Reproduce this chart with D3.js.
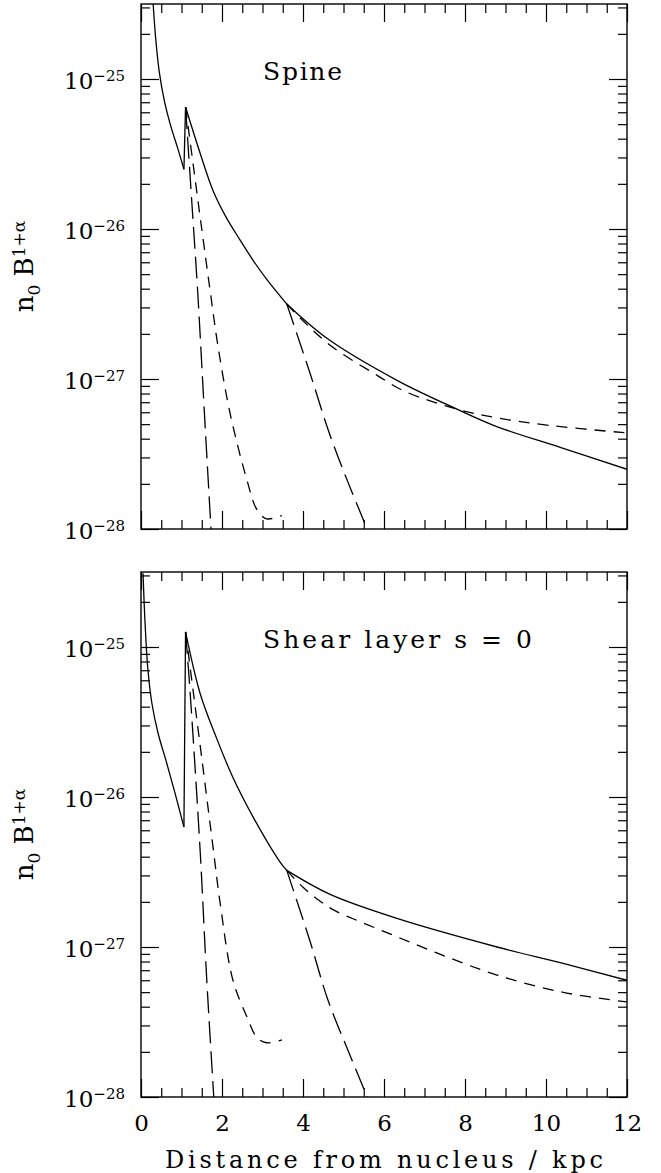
<!DOCTYPE html>
<html>
<head>
<meta charset="utf-8">
<script src="https://cdn.jsdelivr.net/npm/d3@7"></script>
<style>
  body { margin: 0; background: #fff; }
  svg { display: block; }
  text { font-family: "DejaVu Serif", serif; fill: #000; }
</style>
</head>
<body>
<svg id="chart" width="661" height="1173"></svg>
<script>
// Axis ticks
const xMajor = [0, 2, 4, 6, 8, 10, 12];
const xMinor = d3.range(0.5, 12, 0.5).filter(d => d % 2 !== 0);
const yDecades = [1e-28, 1e-27, 1e-26, 1e-25];
const yMin = 1e-28;
const yMax = Math.pow(10, -24.5);
const yMinor = [];
[-28, -27, -26, -25].forEach(e => {
  for (let m = 2; m <= 9; m++) yMinor.push(m * Math.pow(10, e));
});

// Spine panel, [kpc, n0 B^(1+a)]; each curve is a list of pieces
const spineSolid = [
  [[0.30, 3.16e-25], [0.36, 1.9e-25], [0.45, 1.12e-25], [0.58, 7.1e-26], [0.75, 4.7e-26], [0.90, 3.5e-26], [1.06, 2.5e-26]],
  [[1.06, 2.5e-26], [1.10, 6.5e-26]],
  [[1.10, 6.5e-26], [1.46, 3.2e-26], [1.78, 1.8e-26], [2.1, 1.2e-26], [2.44, 8.5e-27], [2.8, 6.0e-27], [3.11, 4.6e-27], [3.6, 3.16e-27]],
  [[3.6, 3.16e-27], [4.6, 1.86e-27], [6.32, 9.8e-28], [7.8, 6.3e-28], [8.8, 4.8e-28], [10.35, 3.5e-28], [12, 2.5e-28]]
];
const spineShort = [
  [[1.10, 6.5e-26], [1.28, 2.8e-26], [1.5, 1.0e-26], [1.7, 4.0e-27], [1.9, 1.66e-27], [2.2, 5.9e-28], [2.62, 2.1e-28], [2.86, 1.35e-28], [3.1, 1.17e-28], [3.48, 1.23e-28]],
  [[3.6, 3.16e-27], [3.9, 2.6e-27], [4.67, 1.68e-27], [5.85, 1.05e-27], [6.5, 8.3e-28], [7.8, 6.3e-28], [8.8, 5.5e-28], [10.1, 4.9e-28], [12, 4.37e-28]]
];
const spineLong = [
  [[1.10, 6.5e-26], [1.25, 1.58e-26], [1.4, 3.8e-27], [1.56, 6.3e-28], [1.75, 7.9e-29]],
  [[3.6, 3.16e-27], [4.17, 1.1e-27], [4.67, 4.2e-28], [5.16, 1.9e-28], [5.65, 9.1e-29]]
];

// Shear layer panel
const shearSolid = [
  [[0.05, 3.1e-25], [0.10, 1.45e-25], [0.17, 7.1e-26], [0.27, 4.2e-26], [0.42, 2.67e-26], [0.62, 1.74e-26], [0.84, 1.06e-26], [1.06, 6.3e-27]],
  [[1.06, 6.3e-27], [1.10, 1.26e-25]],
  [[1.10, 1.26e-25], [1.46, 4.9e-26], [1.87, 2.45e-26], [2.27, 1.35e-26], [2.8, 7.1e-27], [3.43, 3.7e-27], [3.6, 3.24e-27]],
  [[3.6, 3.24e-27], [4.67, 2.24e-27], [6.32, 1.55e-27], [8.79, 1.0e-27], [10.4, 7.8e-28], [12, 6.0e-28]]
];
const shearShort = [
  [[1.10, 1.26e-25], [1.3, 4.8e-26], [1.5, 1.82e-26], [1.78, 4.6e-27], [1.95, 2.0e-27], [2.27, 6.0e-28], [2.62, 3.4e-28], [2.86, 2.5e-28], [3.1, 2.3e-28], [3.48, 2.4e-28]],
  [[3.6, 3.24e-27], [4.0, 2.5e-27], [4.4, 2.04e-27], [4.8, 1.74e-27], [5.4, 1.48e-27], [6.32, 1.17e-27], [7.5, 8.7e-28], [8.79, 6.5e-28], [10.4, 5.0e-28], [12, 4.3e-28]]
];
const shearLong = [
  [[1.10, 1.26e-25], [1.2, 5.6e-26], [1.46, 4.4e-27], [1.62, 6.3e-28], [1.82, 7.9e-29]],
  [[3.6, 3.24e-27], [4.17, 1.1e-27], [4.62, 4.4e-28], [5.16, 1.9e-28], [5.65, 9.1e-29]]
];

const svg = d3.select('#chart');
const left = 141, right = 627;
const x = d3.scaleLinear().domain([0, 12]).range([left, right]);

function drawPanel(id, top, bottom, title, solid, shortDash, longDash, xLabels) {
  const y = d3.scaleLog().domain([yMin, yMax]).range([bottom, top]);
  const g = svg.append('g');

  // clip curves to the frame
  svg.append('clipPath').attr('id', id)
    .append('rect')
    .attr('x', left).attr('y', top)
    .attr('width', right - left).attr('height', bottom - top);

  const line = d3.line()
    .x(d => x(d[0]))
    .y(d => y(d[1]))
    .curve(d3.curveCatmullRom.alpha(0.5));

  const curves = g.append('g').attr('clip-path', `url(#${id})`)
    .attr('fill', 'none').attr('stroke', '#000').attr('stroke-width', 1.3);
  solid.forEach(p => curves.append('path').attr('d', line(p)));
  shortDash.forEach(p => curves.append('path').attr('d', line(p)).attr('stroke-dasharray', '11,8'));
  longDash.forEach(p => curves.append('path').attr('d', line(p)).attr('stroke-dasharray', '22,8'));

  // ticks on all four sides
  const tickAxis = (axis, vals, size, tr) => {
    const a = g.append('g').attr('transform', tr)
      .call(axis.tickValues(vals).tickSize(size).tickSizeOuter(0).tickFormat(''));
    a.select('.domain').remove();
    a.selectAll('line').attr('stroke-width', 1.2);
  };
  tickAxis(d3.axisBottom(x), xMajor, -18, `translate(0,${bottom})`);
  tickAxis(d3.axisBottom(x), xMinor, -9, `translate(0,${bottom})`);
  tickAxis(d3.axisTop(x), xMajor, -18, `translate(0,${top})`);
  tickAxis(d3.axisTop(x), xMinor, -9, `translate(0,${top})`);
  const yMinorIn = yMinor.filter(v => v <= yMax);
  tickAxis(d3.axisLeft(y), yDecades, -18, `translate(${left},0)`);
  tickAxis(d3.axisLeft(y), yMinorIn, -9, `translate(${left},0)`);
  tickAxis(d3.axisRight(y), yDecades, -18, `translate(${right},0)`);
  tickAxis(d3.axisRight(y), yMinorIn, -9, `translate(${right},0)`);

  // frame
  g.append('rect')
    .attr('x', left).attr('y', top)
    .attr('width', right - left).attr('height', bottom - top)
    .attr('fill', 'none').attr('stroke', '#000').attr('stroke-width', 1.4);

  // y tick labels 10^-n
  const yl = g.append('g').attr('transform', `translate(${left},0)`)
    .call(d3.axisLeft(y).tickValues(yDecades).tickSize(0).tickPadding(16).tickFormat(''))
    .attr('font-size', 23);
  yl.select('.domain').remove();
  yl.selectAll('.tick text')
    .attr('dy', null)
    .attr('y', 9)
    .each(function (d) {
      const t = d3.select(this);
      t.append('tspan').text('10');
      t.append('tspan').attr('font-size', 15).attr('dy', -8)
        .text('\u2212' + Math.round(-Math.log10(d)));
    });

  if (xLabels) {
    const xl = g.append('g').attr('transform', `translate(0,${bottom})`)
      .call(d3.axisBottom(x).tickValues(xMajor).tickSize(0).tickPadding(18))
      .attr('font-size', 23);
    xl.select('.domain').remove();
  }

  // y axis title
  const yt = g.append('text')
    .attr('transform', `translate(33,${(top + bottom) / 2}) rotate(-90)`)
    .attr('text-anchor', 'middle')
    .attr('font-size', 26);
  yt.append('tspan').text('n');
  yt.append('tspan').attr('font-size', 17).attr('dy', 7).text('0');
  yt.append('tspan').attr('dy', -7).text('\u00a0B');
  yt.append('tspan').attr('font-size', 17).attr('dy', -8).text('1+\u03b1');

  // panel title
  g.append('text')
    .attr('x', 263).attr('y', top + 76)
    .attr('font-size', 25)
    .attr('textLength', title.length > 6 ? 269 : 79)
    .text(title);
}

drawPanel('clipTop', 4, 529, 'Spine', spineSolid, spineShort, spineLong, false);
drawPanel('clipBot', 572, 1097, 'Shear layer s = 0', shearSolid, shearShort, shearLong, true);

svg.append('text')
  .attr('x', 384).attr('y', 1168)
  .attr('text-anchor', 'middle')
  .attr('font-size', 24)
  .attr('textLength', 438)
  .text('Distance from nucleus / kpc');
</script>
</body>
</html>
